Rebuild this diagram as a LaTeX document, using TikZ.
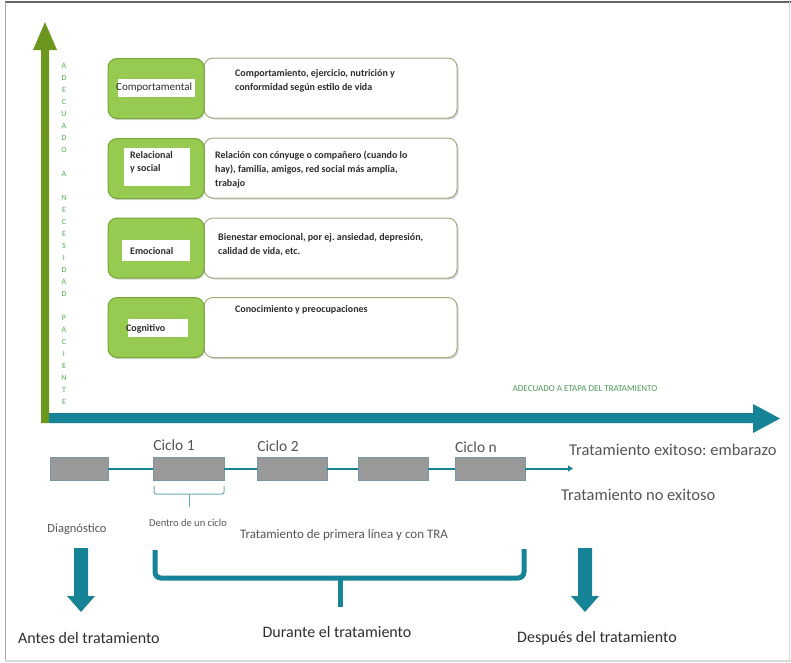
\documentclass[tikz,border=0pt]{standalone}
\usepackage{fontspec}
\setmainfont{Carlito}
\frenchspacing
\usetikzlibrary{shadows,arrows.meta}
\definecolor{teal1}{RGB}{22,132,150}
\definecolor{teallt}{RGB}{110,170,178}
\definecolor{olive1}{RGB}{108,150,30}
\definecolor{lime1}{RGB}{150,202,80}
\definecolor{lime2}{RGB}{118,168,58}
\definecolor{wborder}{RGB}{170,170,130}
\definecolor{txtgray}{RGB}{85,85,85}
\definecolor{txtdark}{RGB}{45,45,45}
\definecolor{vgreen}{RGB}{85,170,95}
\definecolor{rectgray}{RGB}{153,153,153}
\tikzset{
  gbox/.style={draw=lime2, fill=lime1, line width=1pt, rounded corners=9pt,
    minimum width=96pt, minimum height=60pt,
    drop shadow={opacity=0.35, shadow xshift=1pt, shadow yshift=-1.5pt}},
  wbox/.style={draw=wborder, fill=white, line width=1pt, rounded corners=9pt,
    minimum width=253pt, minimum height=60pt,
    drop shadow={opacity=0.35, shadow xshift=1.5pt, shadow yshift=-1.5pt}},
  btxt/.style={anchor=north west, align=left, inner sep=0pt, font=\fontsize{10}{14}\selectfont\bfseries, text=txtdark},
  vlet/.style={font=\fontsize{8}{9}\selectfont, text=vgreen, inner sep=0pt},
  trect/.style={draw=teallt!60!gray, fill=rectgray, line width=0.8pt, minimum height=23pt},
  tline/.style={draw=teal1, line width=2pt},
  gtxt/.style={text=txtgray, inner sep=0pt},
  btm/.style={inner sep=0pt, text=txtdark, font=\fontsize{16}{18}\selectfont},
}
\begin{document}
\begin{tikzpicture}[x=1pt,y=-1pt]
\useasboundingbox (0,0) rectangle (791,662);
% frame
\draw[line width=2pt, gray!80!black] (5,1.5) -- (791,1.5);
\draw[line width=1pt, gray!70] (5,1.5) -- (5,661);
\draw[line width=1.5pt, gray!30] (5,661) -- (791,661);
\draw[line width=1pt, gray!30] (789,1.5) -- (789,661);

% green vertical arrow
\fill[olive1] (41,423) -- (41,50) -- (33,50) -- (45,22) -- (57,50) -- (49,50) -- (49,423) -- cycle;
% teal horizontal arrow
\fill[teal1] (49,413) -- (753,413) -- (753,404) -- (780,418.5) -- (753,433) -- (753,423) -- (49,423) -- cycle;

% vertical letters
\foreach \l/\yy in {A/66,D/78,E/90,C/102,U/114,A/126,D/138,O/150,A/174,N/198,E/210,C/222,E/234,S/246,I/258,D/270,A/282,D/294,P/318,A/330,C/342,I/354,E/366,N/378,T/390,E/402}
  \node[vlet] at (64,\yy) {\l};

% rows
\node[wbox] (w1) at (330.5,88) {};
\node[gbox] (g1) at (156,88.5) {};
\node[wbox] (w2) at (330.5,168) {};
\node[gbox] (g2) at (156,168.5) {};
\node[wbox] (w3) at (330.5,248) {};
\node[gbox] (g3) at (156,248) {};
\node[wbox] (w4) at (330.5,327.5) {};
\node[gbox] (g4) at (156,327.5) {};

% labels in green boxes
\node[fill=white, minimum width=77pt, minimum height=18pt, inner sep=0pt] (l1) at (156.5,88) {};
\node[anchor=west, inner sep=0pt, font=\fontsize{11}{12}\selectfont, text=txtdark] at (116,88) {Comportamental};
\node[fill=white, minimum width=66pt, minimum height=38pt, inner sep=0pt] (l2) at (157,167) {};
\node[anchor=north west, align=left, inner sep=0pt, font=\fontsize{10}{13}\selectfont\bfseries, text=txtdark] at (130,151) {Relacional\\y social};
\node[fill=white, minimum width=68pt, minimum height=21pt, inner sep=0pt] (l3) at (156,250.5) {};
\node[anchor=west, inner sep=0pt, font=\fontsize{10}{12}\selectfont\bfseries, text=txtdark] at (130,251) {Emocional};
\node[fill=white, minimum width=60pt, minimum height=18pt, inner sep=0pt] (l4) at (158,328) {};
\node[anchor=west, inner sep=0pt, font=\fontsize{10}{12}\selectfont\bfseries, text=txtdark] at (126,329) {Cognitivo};

% texts in white boxes
\node[btxt] at (235,69) {Comportamiento, ejercicio, nutrición y\\conformidad según estilo de vida};
\node[btxt] at (215,151) {Relación con cónyuge o compañero (cuando lo\\hay), familia, amigos, red social más amplia,\\trabajo};
\node[btxt] at (218,233) {Bienestar emocional, por ej. ansiedad, depresión,\\calidad de vida, etc.};
\node[btxt] at (235,305) {Conocimiento y preocupaciones};

% axis label
\node[inner sep=0pt, font=\fontsize{9}{10}\selectfont, text=vgreen!90!black] at (585,389) {ADECUADO A ETAPA DEL TRATAMIENTO};

% timeline
\node[trect, minimum width=58pt] (r1) at (79,468.5) {};
\node[trect, minimum width=71pt] (r2) at (188.5,468.5) {};
\node[trect, minimum width=70pt] (r3) at (292,468.5) {};
\node[trect, minimum width=70pt] (r4) at (393,468.5) {};
\node[trect, minimum width=70pt] (r5) at (490,468.5) {};
\coordinate (tend) at (573,468.5);
\draw[tline] (r1) -- (r2);
\draw[tline] (r2) -- (r3);
\draw[tline] (r3) -- (r4);
\draw[tline] (r4) -- (r5);
\draw[tline, -{Triangle[length=5pt,width=6pt]}] (r5) -- (tend);

\node[gtxt, font=\fontsize{15.5}{17}\selectfont] at (174,445) {Ciclo 1};
\node[gtxt, font=\fontsize{15.5}{17}\selectfont] at (278,446) {Ciclo 2};
\node[gtxt, font=\fontsize{15.5}{17}\selectfont] at (476,447) {Ciclo n};
\node[gtxt, anchor=west, font=\fontsize{16.5}{19}\selectfont] at (569,450) {Tratamiento exitoso: embarazo};
\node[gtxt, anchor=west, font=\fontsize{16.5}{19}\selectfont] at (561,495) {Tratamiento no exitoso};

% small brace
\draw[teallt, line width=1pt, rounded corners=2pt] (154,486) -- (154,494) -- (224,494) -- (224,486);
\draw[teallt, line width=1pt] (189,494) -- (189,507);
\node[gtxt, font=\fontsize{10.5}{12}\selectfont] at (188,523) {Dentro de un ciclo};
\node[gtxt, font=\fontsize{12.5}{14}\selectfont] at (77,529) {Diagnóstico};
\node[gtxt, font=\fontsize{13}{15}\selectfont] at (344,535) {Tratamiento de primera línea y con TRA};

% big brace
\draw[teal1, line width=5pt, rounded corners=6pt] (155,550) -- (155,578) -- (524,578) -- (524,549);
\draw[teal1, line width=5pt] (340,578) -- (340,607);

% down arrows
\fill[teal1] (74,548) -- (88,548) -- (88,596) -- (95,596) -- (81,612) -- (67,596) -- (74,596) -- cycle;
\fill[teal1] (578,548) -- (592,548) -- (592,596) -- (599,596) -- (585,612) -- (571,596) -- (578,596) -- cycle;

\node[btm, anchor=west] at (18,638) {Antes del tratamiento};
\node[btm] at (337,632) {Durante el tratamiento};
\node[btm] at (597,638) {Después del tratamiento};
\end{tikzpicture}
\end{document}
